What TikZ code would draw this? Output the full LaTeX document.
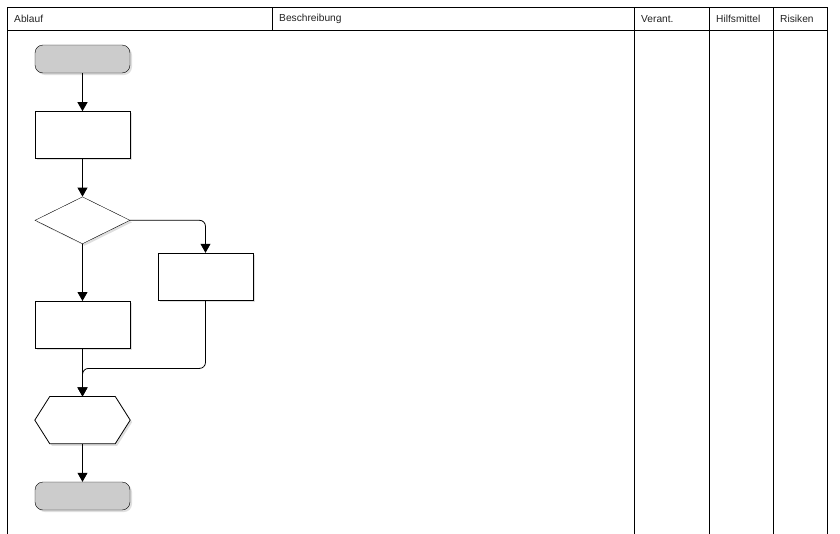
\documentclass[tikz,border=0pt]{standalone}
\usepackage{fontspec}
\setmainfont{Liberation Sans}
\usetikzlibrary{arrows.meta,positioning,shapes.geometric,shadows}
\definecolor{flGray}{HTML}{CCCCCC}
\definecolor{flInk}{HTML}{000000}
\definecolor{flText}{HTML}{222222}
\tikzset{
  gridLine/.style={draw=flInk, line width=0.9pt},
  headLabel/.style={anchor=west, font=\fontsize{10.2}{12}\selectfont, text=flText, inner sep=0pt},
  softShadow/.style={drop shadow={opacity=0.25, shadow xshift=2pt, shadow yshift=-2pt}},
  termBox/.style={draw=flInk, fill=flGray, rounded corners=8pt, minimum width=95pt, minimum height=28pt, inner sep=0pt, softShadow},
  procBox/.style={draw=flInk, fill=white, minimum width=95pt, minimum height=47pt, inner sep=0pt, softShadow},
  decBox/.style={diamond, aspect=2, draw=flInk, fill=white, minimum width=95pt, minimum height=47pt, inner sep=0pt, softShadow},
  hexSlot/.style={minimum width=95pt, minimum height=47pt, inner sep=0pt},
  hexLine/.style={draw=flInk, fill=white, line width=0.8pt, softShadow},
  flowArrow/.style={-{Triangle[length=9pt,width=10pt]}, draw=flInk, line width=0.8pt, rounded corners=6pt}
}

\begin{document}
\begin{tikzpicture}[x=1pt, y=-1pt]
  \useasboundingbox (0,0) rectangle (840,533);

  % table frame
  \draw[gridLine] (7,540) -- (7,7) -- (827,7) -- (827,540);
  \draw[gridLine] (7,30) -- (827,30);
  \draw[gridLine] (272,7) -- (272,30);
  \foreach \cx in {634,709,773}
    \draw[gridLine] (\cx,7) -- (\cx,540);

  \node[headLabel] (hAblauf) at (14,19) {Ablauf};
  \node[headLabel] (hBeschr) at (279,19) {Beschreibung};
  \node[headLabel] (hVerant) at (641,19) {Verant.};
  \node[headLabel] (hHilfs) at (716,19) {Hilfsmittel};
  \node[headLabel] (hRisiken) at (780,19) {Risiken};

  % flow
  \node[termBox] (start) at (82.5,59) {};
  \node[procBox, below=38pt of start] (prepare) {};
  \node[decBox, below=38pt of prepare] (check) {};
  \node[procBox, below=57pt of check] (caseA) {};
  \node[procBox] (caseB) at (205.5,276.5) {};
  \node[hexSlot, below=48pt of caseA] (prep) {};
  \node[termBox, below=38pt of prep] (stop) {};

  \draw[hexLine] (prep.west) -- ([xshift=15pt]prep.north west) -- ([xshift=-15pt]prep.north east)
    -- (prep.east) -- ([xshift=-15pt]prep.south east) -- ([xshift=15pt]prep.south west) -- cycle;

  \coordinate (merge) at ([yshift=28pt]prep.north);

  \draw[flowArrow] (start) -- (prepare);
  \draw[flowArrow] (prepare) -- (check);
  \draw[flowArrow] (check) -- (caseA);
  \draw[flowArrow] (check.east) -| (caseB);
  \draw[flowArrow] (caseA) -- (prep);
  \draw[flowArrow] (caseB) |- (merge) -- (prep);
  \draw[flowArrow] (prep) -- (stop);
\end{tikzpicture}
\end{document}
